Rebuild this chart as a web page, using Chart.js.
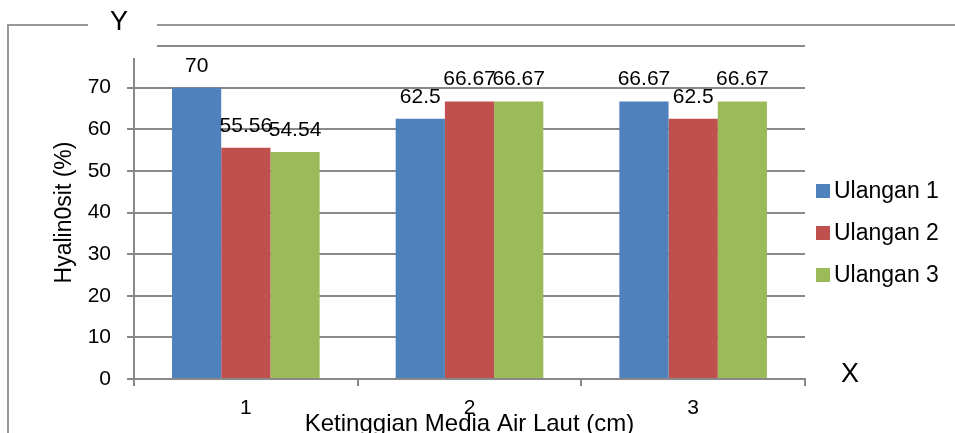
<!DOCTYPE html>
<html>
<head>
<meta charset="utf-8">
<script src="https://cdn.jsdelivr.net/npm/chart.js@4"></script>
<style>
  html, body { margin: 0; padding: 0; background: #fff; overflow: hidden; }
</style>
</head>
<body>
<canvas id="chart" width="955" height="433"></canvas>
<script>
const categories = ["1", "2", "3"];
const seriesNames = ["Ulangan 1", "Ulangan 2", "Ulangan 3"];
const ulangan1 = [70, 62.5, 66.67];
const ulangan2 = [55.56, 66.67, 62.5];
const ulangan3 = [54.54, 66.67, 66.67];
const yMin = 0;
const yMax = 80;
const yStep = 10;

const FONT = '"Liberation Sans", Arial, sans-serif';
const GRID = "#898989";
const COLORS = ["#4f81bd", "#c0504d", "#9bbb59"];

/* ===== DATA LABELS ===== */
const valueLabels = {
  id: "valueLabels",
  afterDatasetsDraw(chart) {
    const ctx = chart.ctx;
    ctx.save();
    ctx.font = "21px " + FONT;
    ctx.fillStyle = "#000";
    ctx.textAlign = "center";
    ctx.textBaseline = "alphabetic";
    chart.data.datasets.forEach((ds, i) => {
      chart.getDatasetMeta(i).data.forEach((bar, j) => {
        ctx.fillText(String(ds.data[j]), bar.x, bar.y - 16);
      });
    });
    ctx.restore();
  }
};

/* ===== FRAME, Y / X MARKS, LEGEND ===== */
const decorations = {
  id: "decorations",
  afterDraw(chart) {
    const ctx = chart.ctx;
    ctx.save();

    // outer frame
    ctx.strokeStyle = "#999";
    ctx.lineWidth = 2;
    ctx.beginPath();
    ctx.moveTo(8, 433);
    ctx.lineTo(8, 25);
    ctx.lineTo(955, 25);
    ctx.stroke();

    // white box with "Y"
    ctx.fillStyle = "#fff";
    ctx.fillRect(88, 0, 69, 58);
    ctx.fillStyle = "#000";
    ctx.font = "27px " + FONT;
    ctx.textAlign = "center";
    ctx.textBaseline = "middle";
    ctx.fillText("Y", 119, 23);
    ctx.fillText("X", 850, 375);

    // legend
    ctx.font = "23px " + FONT;
    ctx.textAlign = "left";
    chart.data.datasets.forEach((ds, i) => {
      const y = 191 + i * 42;
      ctx.fillStyle = ds.backgroundColor;
      ctx.fillRect(816, y - 7, 14, 14);
      ctx.fillStyle = "#000";
      ctx.fillText(ds.label, 834, y + 1);
    });

    ctx.restore();
  }
};

new Chart(document.getElementById("chart"), {
  type: "bar",
  data: {
    labels: categories,
    datasets: [
      { label: seriesNames[0], data: ulangan1, backgroundColor: COLORS[0] },
      { label: seriesNames[1], data: ulangan2, backgroundColor: COLORS[1] },
      { label: seriesNames[2], data: ulangan3, backgroundColor: COLORS[2] }
    ]
  },
  options: {
    responsive: false,
    animation: false,
    devicePixelRatio: 1,
    layout: { padding: { top: 46, right: 150, bottom: 0, left: 0 } },
    datasets: {
      bar: { categoryPercentage: 0.66, barPercentage: 1.0 }
    },
    plugins: {
      legend: { display: false },
      tooltip: { enabled: false }
    },
    scales: {
      x: {
        grid: {
          offset: true,
          drawOnChartArea: false,
          drawTicks: true,
          tickLength: 7,
          color: GRID,
          lineWidth: 2
        },
        border: { color: GRID, width: 2 },
        ticks: {
          color: "#000",
          font: { family: FONT, size: 21 },
          padding: 10,
          maxRotation: 0
        },
        title: {
          display: true,
          text: "Ketinggian Media Air Laut (cm)",
          color: "#000",
          font: { family: FONT, size: 24, lineHeight: 0.75 },
          padding: { top: 0, bottom: 0 }
        },
        afterFit(scale) { scale.height = 54; }
      },
      y: {
        min: yMin,
        max: yMax,
        grid: {
          color: GRID,
          lineWidth: 2,
          drawTicks: true,
          tickLength: 7
        },
        border: { color: GRID, width: 2 },
        ticks: {
          stepSize: yStep,
          color: "#000",
          font: { family: FONT, size: 21 },
          padding: 16,
          callback: v => (v === yMax ? "" : v)
        },
        title: {
          display: true,
          text: "Hyalin0sit (%)",
          color: "#000",
          font: { family: FONT, size: 23 },
          padding: { top: 51, bottom: 0 }
        },
        afterFit(scale) { scale.width = 134; }
      }
    }
  },
  plugins: [valueLabels, decorations]
});
</script>
</body>
</html>
